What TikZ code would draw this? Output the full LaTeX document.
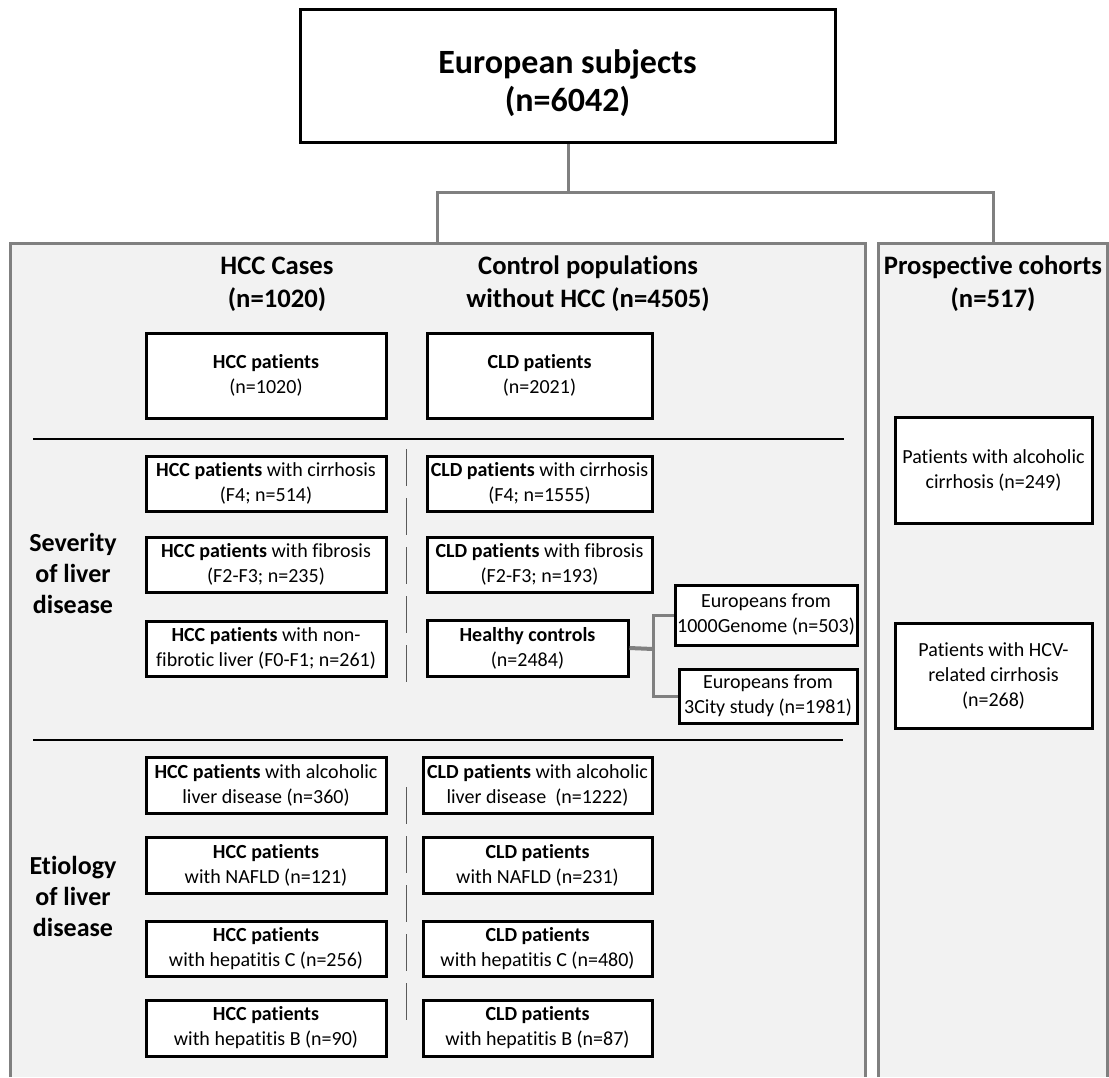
\documentclass[tikz,border=0pt]{standalone}
\usepackage{fontspec}
\setmainfont{Carlito}[Ligatures=NoCommon]
\definecolor{panelfill}{RGB}{242,242,242}
\definecolor{panelline}{RGB}{128,128,128}
\definecolor{dashcol}{RGB}{90,90,90}
\tikzset{
  bxstyle/.style={draw=black,line width=2.25pt,fill=white,inner sep=0pt,align=center,
    font=\fontsize{15}{18.75}\selectfont},
  connline/.style={draw=panelline,line width=2.25pt},
  sepline/.style={draw=black,line width=1.5pt},
  dashline/.style={draw=dashcol,line width=0.75pt,dash pattern=on 27.5pt off 9.25pt},
  headtext/.style={align=center,inner sep=0pt,font=\fontsize{20}{24.75}\selectfont\bfseries},
  sidetext/.style={align=center,inner sep=0pt,font=\fontsize{19.5}{23.25}\selectfont\bfseries},
}
\newcommand\bx[6]{\node[bxstyle,minimum width={(#4-#2)*0.75pt},minimum height={(#5-#3)*0.75pt}] (#1) at ({(#2+#4)/2},{(#3+#5)/2}) {#6};}
\begin{document}
\begin{tikzpicture}[x=0.75pt,y=-0.75pt]
\useasboundingbox[fill=white] (0,0) rectangle (1109,1077);
% panels
\fill[panelfill] (10,243) rectangle (865,1077);
\fill[panelfill] (878,243) rectangle (1107,1077);
\draw[connline] (10,1077) -- (10,243) -- (865,243) -- (865,1077);
\draw[connline] (878,1077) -- (878,243) -- (1107,243) -- (1107,1077);
\coordinate (lpTop) at (437,243);
\coordinate (rpTop) at (993,243);
\coordinate (lpJ) at (437,192);
\coordinate (rpJ) at (993,192);
\coordinate (split) at (568,192);
% top box
\node[draw=black,line width=2.25pt,fill=white,inner sep=0pt,
  minimum width={535*0.75pt},minimum height={133*0.75pt}] (top) at (567.5,76.5) {};
\node[align=center,inner sep=0pt,font=\fontsize{25.5}{28}\selectfont\bfseries] (toptext) at (567.5,83) {European subjects\\(n=6042)};
\draw[connline] (top.south -| split) -- (split);
\draw[connline] (lpTop) -- (lpJ) -- (rpJ) -- (rpTop);
% headers
\node[headtext] (hcch) at (277,284) {HCC Cases\\(n=1020)};
\node[headtext] (ctrlh) at (588,284) {Control populations\\without HCC (n=4505)};
\node[headtext] (proh) at (993,284) {Prospective cohorts\\(n=517)};
\node[sidetext] (sev) at (73,573) {Severity\\of liver\\disease};
\node[sidetext] (eti) at (73,896) {Etiology\\of liver\\disease};
% separators
\coordinate (s1a) at (33,439); \coordinate (s1b) at (844,439);
\coordinate (s2a) at (33,740); \coordinate (s2b) at (843,740);
\draw[sepline] (s1a) -- (s1b);
\draw[sepline] (s2a) -- (s2b);
% dashed dividers
\coordinate (d1a) at (406,449); \coordinate (d1b) at (406,684);
\coordinate (d2a) at (406,787); \coordinate (d2b) at (406,1023);
\draw[dashline] (d1a) -- (d1b);
\draw[dashline] (d2a) -- (d2b);
% HCC column
\bx{hcc}{146}{333}{386}{418}{\textbf{HCC patients}\\(n=1020)}
\bx{hcccir}{146}{456}{386}{511}{\textbf{HCC patients} with cirrhosis\\(F4; n=514)}
\bx{hccfib}{146}{537}{386}{592}{\textbf{HCC patients} with fibrosis\\(F2-F3; n=235)}
\bx{hccnon}{146}{621}{386}{676}{\textbf{HCC patients} with non-\\fibrotic liver (F0-F1; n=261)}
\bx{hccalc}{146}{757}{386}{813}{\textbf{HCC patients} with alcoholic\\liver disease (n=360)}
\bx{hccnaf}{146}{837}{386}{893}{\textbf{HCC patients}\\with NAFLD (n=121)}
\bx{hcchc}{146}{921}{386}{976}{\textbf{HCC patients}\\with hepatitis C (n=256)}
\bx{hcchb}{146}{1000}{386}{1056}{\textbf{HCC patients}\\with hepatitis B (n=90)}
% CLD column
\bx{cld}{427}{333}{652}{418}{\textbf{CLD patients}\\(n=2021)}
\bx{cldcir}{427}{456}{652}{511}{\textbf{CLD patients} with cirrhosis\\(F4; n=1555)}
\bx{cldfib}{427}{537}{652}{592}{\textbf{CLD patients} with fibrosis\\(F2-F3; n=193)}
\bx{healthy}{427}{620}{628}{676}{\textbf{Healthy controls}\\(n=2484)}
\bx{cldalc}{423}{757}{652}{813}{\textbf{CLD patients} with alcoholic\\liver disease\ \ (n=1222)}
\bx{cldnaf}{423}{837}{652}{893}{\textbf{CLD patients}\\with NAFLD (n=231)}
\bx{cldhc}{423}{921}{652}{976}{\textbf{CLD patients}\\with hepatitis C (n=480)}
\bx{cldhb}{423}{1000}{652}{1056}{\textbf{CLD patients}\\with hepatitis B (n=87)}
% Europeans
\bx{eua}{675}{585}{857}{645}{Europeans from\\1000Genome (n=503)}
\bx{eub}{679}{669}{857}{723}{Europeans from\\3City study (n=1981)}
\coordinate (hub) at (653,649);
\draw[draw=panelline,line width=3pt] (healthy.east) -- (hub);
\draw[draw=panelline,line width=2.25pt] (eua.west) -| (hub) |- (eub.west);
% prospective
\bx{proalc}{895}{417}{1092}{523}{Patients with alcoholic\\cirrhosis (n=249)}
\bx{prohcv}{895}{623}{1092}{728}{Patients with HCV-\\related cirrhosis\\(n=268)}
\end{tikzpicture}
\end{document}
